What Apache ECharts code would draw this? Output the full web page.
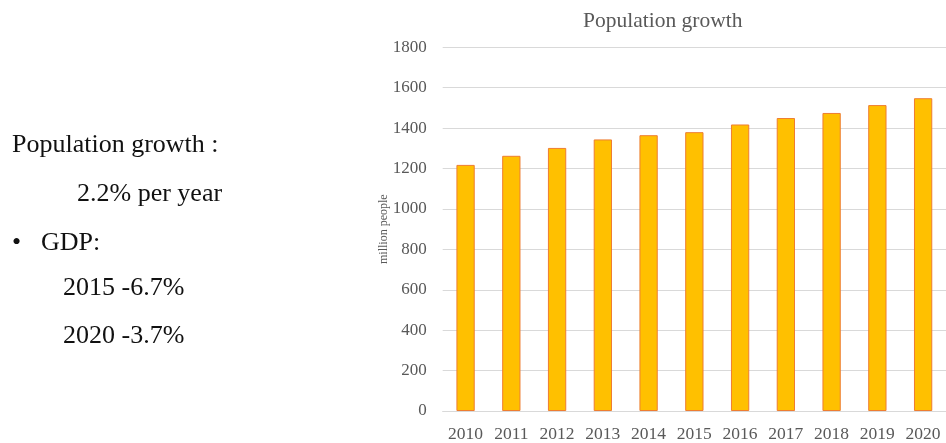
<!DOCTYPE html>
<html>
<head>
<meta charset="utf-8">
<title>Population growth</title>
<script src="https://cdn.jsdelivr.net/npm/echarts@6/dist/echarts.min.js"></script>
<style>
  html, body { margin: 0; padding: 0; background: #ffffff; }
  #chart { width: 946px; height: 443px; }
</style>
</head>
<body>
<div id="chart"></div>
<script>
// Yearly population, million people
const years = ['2010', '2011', '2012', '2013', '2014', '2015', '2016', '2017', '2018', '2019', '2020'];
const population = [1218, 1263, 1302, 1344, 1365, 1380, 1418, 1450, 1475, 1514, 1548];

// Value axis range and step
const yMin = 0;
const yMax = 1800;
const yStep = 200;

// Side notes next to the chart
const noteLines = [
  { text: 'Population growth :', x: 12, y: 152 },
  { text: '2.2% per year', x: 77, y: 201 },
  { text: '•', x: 12, y: 250 },
  { text: 'GDP:', x: 41, y: 250 },
  { text: '2015 -6.7%', x: 63, y: 295 },
  { text: '2020 -3.7%', x: 63, y: 343 }
];

const serif = '"Liberation Serif", "Times New Roman", serif';
const axisGray = '#595959';

const chart = echarts.init(document.getElementById('chart'), null, { renderer: 'canvas' });

chart.setOption({
  animation: false,
  backgroundColor: '#ffffff',
  title: {
    text: 'Population growth',
    left: 583,
    top: 10,
    padding: 0,
    textStyle: { fontFamily: serif, fontSize: 21.5, fontWeight: 'normal', color: axisGray }
  },
  grid: { left: 442.7, top: 47.3, width: 511.7, height: 367.4, containLabel: false },
  xAxis: {
    type: 'category',
    data: years,
    axisLine: { show: true, lineStyle: { color: '#D9D9D9', width: 1 } },
    axisTick: { show: false },
    axisLabel: { fontFamily: serif, fontSize: 17.5, color: axisGray, margin: 14 }
  },
  yAxis: {
    type: 'value',
    min: yMin,
    max: yMax,
    interval: yStep,
    name: 'million people',
    nameLocation: 'middle',
    nameGap: 53,
    nameMoveOverlap: false,
    nameTextStyle: { fontFamily: serif, fontSize: 12, color: axisGray },
    axisLine: { show: false },
    axisTick: { show: false },
    axisLabel: {
      fontFamily: serif,
      fontSize: 17,
      color: axisGray,
      margin: 16,
      formatter: v => String(v)
    },
    splitLine: { lineStyle: { color: '#D9D9D9', width: 1 } }
  },
  series: [{
    type: 'bar',
    data: population,
    barWidth: '40%',
    itemStyle: {
      color: '#FFC000',
      borderColor: '#EE7D31',
      borderWidth: 1
    }
  }],
  graphic: noteLines.map(n => ({
    type: 'text',
    left: n.x,
    top: n.y - 20,
    style: {
      text: n.text,
      fontFamily: serif,
      fontSize: 26,
      fill: '#111111'
    }
  }))
});
</script>
</body>
</html>
